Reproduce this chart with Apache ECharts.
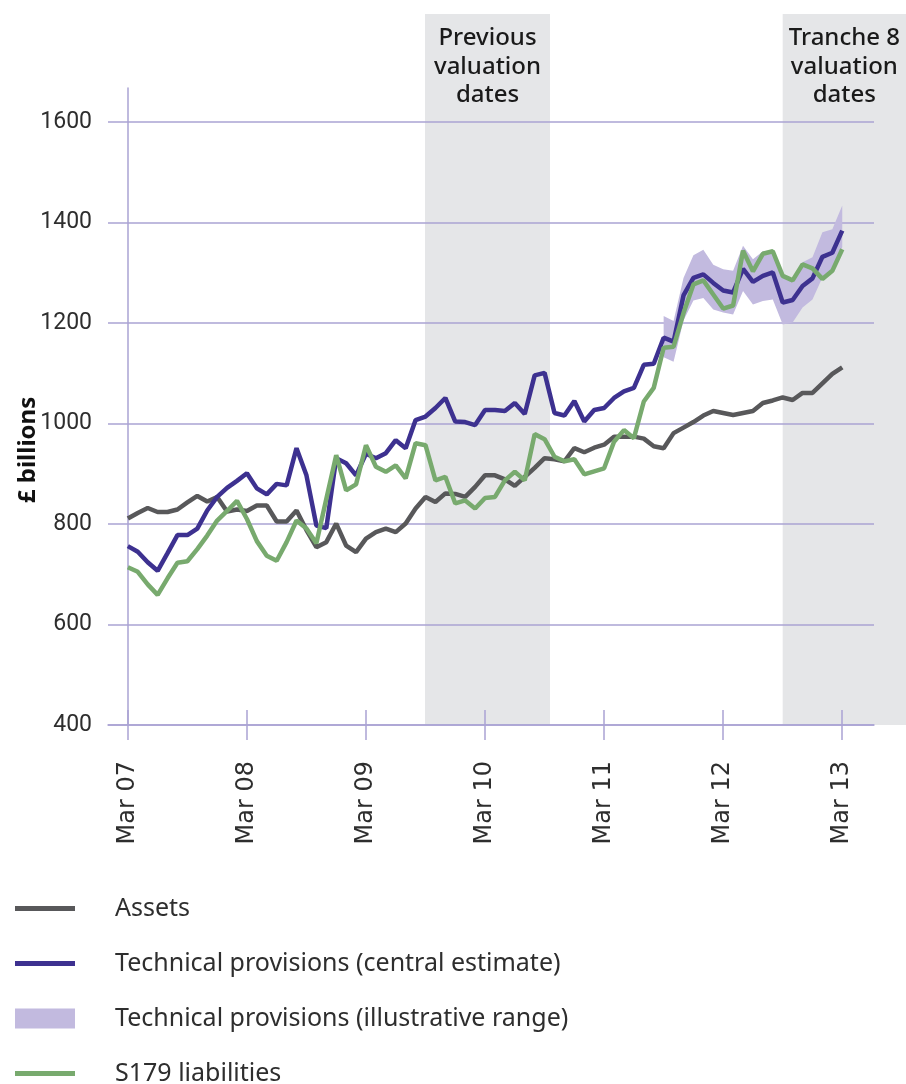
<!DOCTYPE html>
<html>
<head>
<meta charset="utf-8">
<script src="https://cdn.jsdelivr.net/npm/echarts@6/dist/echarts.min.js"></script>
<style>
html, body { margin: 0; padding: 0; background: #fff; }
#chart { width: 906px; height: 1084px; }
</style>
</head>
<body>
<div id="chart"></div>
<script>
// months counted from Mar 07 (0) to Mar 13 (72)
const tickMonths = [0, 12, 24, 36, 48, 60, 72];
const tickLabels = ["Mar 07", "Mar 08", "Mar 09", "Mar 10", "Mar 11", "Mar 12", "Mar 13"];

const assets = [
  811, 822, 832, 824, 824, 829, 843, 856, 845, 854,
  825, 829, 826, 837, 837, 805, 805, 827, 788, 754,
  764, 801, 757, 744, 771, 784, 791, 784, 801, 831,
  854, 844, 861, 860, 854, 874, 897, 897, 889, 876,
  894, 912, 931, 929, 925, 951, 943, 952, 958, 974,
  974, 974, 970, 955, 951, 981, 992, 1003, 1016, 1025,
  1021, 1017, 1021, 1025, 1041, 1046, 1052, 1047, 1061, 1061,
  1080, 1099, 1112
];
const central = [
  756, 745, 724, 707, 742, 778, 778, 791, 827, 854,
  872, 886, 901, 871, 859, 880, 877, 951, 897, 797,
  792, 931, 921, 897, 940, 931, 941, 967, 951, 1007,
  1014, 1031, 1051, 1004, 1003, 997, 1027, 1027, 1025, 1041,
  1019, 1096, 1101, 1021, 1016, 1045, 1004, 1027, 1031, 1051,
  1064, 1071, 1117, 1119, 1171, 1163, 1255, 1290, 1297, 1280,
  1265, 1261, 1308, 1282, 1294, 1301, 1241, 1246, 1274, 1289,
  1332, 1340, 1384
];
const s179 = [
  714, 705, 680, 659, 692, 723, 726, 750, 777, 807,
  826, 846, 810, 766, 737, 727, 764, 807, 791, 762,
  850, 937, 867, 879, 957, 914, 904, 917, 891, 961,
  957, 887, 894, 841, 847, 831, 852, 854, 887, 904,
  887, 979, 969, 934, 925, 929, 899, 905, 911, 964,
  987, 971, 1044, 1071, 1151, 1153, 1220, 1277, 1285, 1257,
  1229, 1235, 1344, 1303, 1338, 1343, 1294, 1285, 1317, 1309,
  1288, 1304, 1347
];

// illustrative range, starting at month 54
const rangeStart = 54;
const rangeLower = [1132, 1123, 1205, 1245, 1250, 1227, 1221, 1217, 1264, 1237, 1244, 1247, 1197, 1201, 1231, 1247, 1291, 1307, 1351];
const rangeUpper = [1214, 1204, 1290, 1335, 1346, 1316, 1307, 1304, 1354, 1327, 1343, 1345, 1297, 1287, 1321, 1331, 1381, 1387, 1434];

// shaded valuation-date bands (months)
const bandStart = [29.95, 66];
const bandEnd = [42.55, 78.43];
const bandText = ["Previous\nvaluation\ndates", "Tranche 8\nvaluation\ndates"];

const names = [
  "Assets",
  "Technical provisions (central estimate)",
  "Technical provisions (illustrative range)",
  "S179 liabilities"
];
const colors = ["#58585a", "#3d3190", "#c2badf", "#78aa6e"];

const GRID_C = "#aaa3d3";
const TEXT_C = "#2e2e2e";

const chart = echarts.init(document.getElementById("chart"));

const toXY = (arr) => arr.map((v, i) => [i, v]);

const legendTops = [891, 946, 1001, 1056];

const option = {
  animation: false,
  grid: [
    { left: 108, right: 32, top: 88, bottom: 359, outerBoundsMode: "none" },
    { left: 108, right: 0, top: 14, bottom: 359, outerBoundsMode: "none" }
  ],
  xAxis: [
    {
      type: "value", gridIndex: 0, min: -2, max: 75.2, position: "bottom",
      axisLine: { lineStyle: { color: GRID_C, width: 1.5 } },
      splitLine: { show: false },
      axisTick: { show: true, length: 15, lineStyle: { color: GRID_C, width: 1.5 }, customValues: tickMonths },
      axisLabel: {
        customValues: tickMonths, rotate: 90, margin: 36,
        color: TEXT_C, fontFamily: "DejaVu Sans", fontSize: 24,
        formatter: (v) => tickLabels[tickMonths.indexOf(Math.round(v))] || ""
      }
    },
    {
      type: "value", gridIndex: 0, min: -2, max: 75.2, position: "bottom",
      axisLine: { show: false },
      splitLine: { show: false },
      axisTick: { show: true, inside: true, length: 15, lineStyle: { color: GRID_C, width: 1.5 }, customValues: tickMonths },
      axisLabel: { show: false }
    },
    {
      type: "value", gridIndex: 1, min: -2, max: 78.43, show: false
    }
  ],
  yAxis: [
    {
      type: "value", gridIndex: 0, min: 400, max: 1668, interval: 200, z: 1,
      axisLine: { show: true, onZero: true, lineStyle: { color: GRID_C, width: 1.5 } },
      axisTick: { show: false },
      splitLine: { show: true, showMaxLine: false, lineStyle: { color: GRID_C, width: 1.5 } },
      axisLabel: {
        showMaxLabel: false, margin: 16, color: TEXT_C,
        fontFamily: "Roboto, sans-serif", fontSize: 23,
        formatter: (v) => String(v)
      }
    },
    { type: "value", gridIndex: 1, min: 0, max: 1, show: false }
  ],
  legend: names.map((n, k) => ({
    data: [n], left: 10, top: legendTops[k], icon: "rect",
    itemWidth: 60, itemHeight: k === 2 ? 20 : 5, selectedMode: false,
    textStyle: { color: TEXT_C, fontFamily: "'Noto Sans', sans-serif", fontSize: 25, padding: [0, 0, 0, 35] }
  })),
  graphic: [{
    type: "text", x: 28, y: 450, rotation: Math.PI / 2,
    style: { text: "£ billions", align: "center", verticalAlign: "middle", fill: "#111",
      font: "bold 24px 'Noto Sans', sans-serif" }
  }],
  series: [
    {
      type: "custom", name: "bands", xAxisIndex: 2, yAxisIndex: 1, z: -1, silent: true,
      data: bandStart.map((s, k) => [s, bandEnd[k]]),
      renderItem: (params, api) => {
        const p0 = api.coord([api.value(0), 1]);
        const p1 = api.coord([api.value(1), 0]);
        return {
          type: "group",
          children: [
            { type: "rect", shape: { x: p0[0], y: p0[1], width: p1[0] - p0[0], height: p1[1] - p0[1] },
              style: { fill: "#e5e6e8" } },
            { type: "text", x: (p0[0] + p1[0]) / 2, y: p0[1] + 10,
              style: { text: bandText[params.dataIndex], align: "center", verticalAlign: "top",
                lineHeight: 28.5, fill: "#1a1a1a", font: "500 24px 'Noto Sans', sans-serif" } }
          ]
        };
      }
    },
    {
      type: "custom", name: names[2], xAxisIndex: 0, yAxisIndex: 0,
      itemStyle: { color: colors[2] },
      data: rangeLower.map((v, k) => [rangeStart + k, v, rangeUpper[k]]),
      renderItem: (params, api) => {
        if (params.dataIndex !== 0) return null;
        const pts = [];
        rangeUpper.forEach((v, k) => pts.push(api.coord([rangeStart + k, v])));
        for (let k = rangeLower.length - 1; k >= 0; k--) pts.push(api.coord([rangeStart + k, rangeLower[k]]));
        return { type: "polygon", shape: { points: pts }, style: { fill: colors[2] } };
      }
    },
    {
      type: "line", name: names[0], data: toXY(assets), symbol: "none",
      color: colors[0], lineStyle: { width: 4.5, color: colors[0] }
    },
    {
      type: "line", name: names[1], data: toXY(central), symbol: "none",
      color: colors[1], lineStyle: { width: 4.5, color: colors[1] }
    },
    {
      type: "line", name: names[3], data: toXY(s179), symbol: "none",
      color: colors[3], lineStyle: { width: 4.5, color: colors[3] }
    }
  ]
};

chart.setOption(option);
</script>
</body>
</html>
